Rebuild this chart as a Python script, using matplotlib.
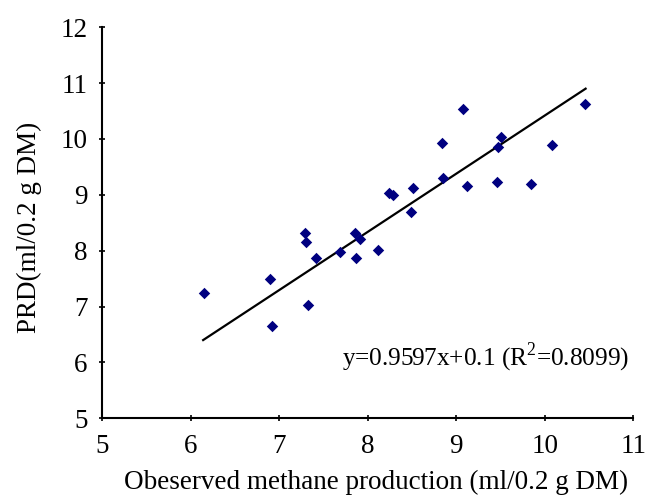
import matplotlib

matplotlib.use('Agg')
import matplotlib.pyplot as plt

observed = [6.15, 6.89, 6.92, 7.29, 7.30, 7.32, 7.41, 7.69, 7.86, 7.91, 7.87, 8.12,
            8.24, 8.29, 8.51, 8.49, 8.84, 8.85, 9.08, 9.12, 9.50, 9.47, 9.46, 9.84,
            10.08, 10.45]
predicted = [7.25, 7.49, 6.66, 8.32, 8.15, 7.03, 7.87, 7.98, 8.32, 8.21, 7.87, 8.02,
             9.04, 8.99, 9.12, 8.69, 9.92, 9.30, 10.54, 9.16, 10.03, 9.85, 9.23, 9.20,
             9.90, 10.63]

# trend line ends as drawn in the reference
fit_x = [6.14, 10.46]
fit_y = [6.40, 10.90]

equation = 'y=0.9597x+0.1 (R$^2$=0.8099)'

plt.rcParams['font.family'] = ['Liberation Serif', 'DejaVu Serif']
plt.rcParams['mathtext.fontset'] = 'custom'
plt.rcParams['mathtext.rm'] = 'Liberation Serif'

fig = plt.figure(figsize=(6.47, 4.95), dpi=100)
ax = fig.add_axes([0.158, 0.155, 0.821, 0.79])

ax.scatter(observed, predicted, marker='D', s=34, color='#000080', linewidths=0, zorder=3)
ax.plot(fit_x, fit_y, color='black', lw=1.6)

ax.set_xlim(5, 11)
ax.set_ylim(5, 12)
ax.set_xticks(range(5, 12))
ax.set_yticks(range(5, 13))
ax.spines['top'].set_visible(False)
ax.spines['right'].set_visible(False)
ax.spines['left'].set_linewidth(1.5)
ax.spines['bottom'].set_linewidth(1.5)
ax.tick_params(direction='inout', length=5, width=1.2, labelsize=19.5)
ax.tick_params(axis='x', pad=9)
ax.tick_params(axis='y', pad=8)

ax.text(10.95, 6.08, equation, ha='right', va='center', fontsize=18.2)

ax.set_xlabel('Obeserved methane production (ml/0.2 g DM)', fontsize=19.5)
ax.set_ylabel('PRD(ml/0.2 g DM)', fontsize=19.5)
ax.xaxis.set_label_coords(0.516, -0.133)
ax.yaxis.set_label_coords(-0.113, 0.489)

fig.savefig('out.png', dpi=100)
plt.close(fig)
